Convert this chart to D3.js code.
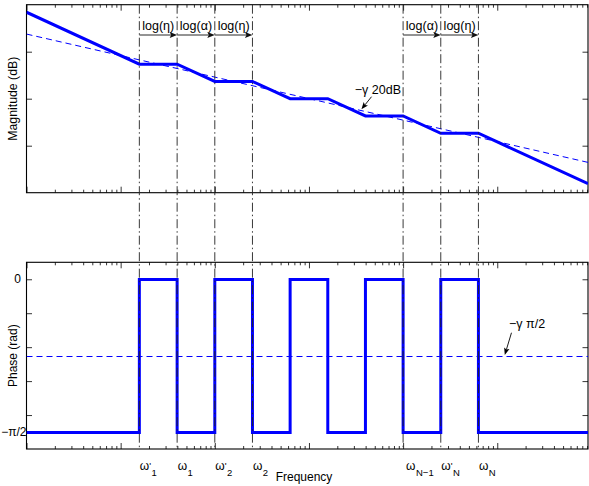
<!DOCTYPE html>
<html><head><meta charset="utf-8">
<script src="https://cdn.jsdelivr.net/npm/d3@7"></script>
<style>
body{margin:0;background:#fff}
svg{display:block}
text{font-family:"Liberation Sans",Arial,Helvetica,sans-serif;fill:#000}
</style>
</head><body>
<svg id="c" width="589" height="486"></svg>
<script>
// ---------- data ----------
const freqDomain = [0.01, 9200];
const magDomain = [-40, 40];
const magTicks = [-20, 0, 20];
const phaseDomain = [-100, 10];
const phaseTicks = [0, -20, -40, -60, -80];

// solid magnitude (staircase approximation)
const magFreq = [0.01, 0.158, 0.398, 1, 2.512, 6.31, 15.85, 39.81, 100, 251.2, 631, 9200];
const magDb   = [36.8, 14.7, 14.7, 7.35, 7.35, 0, 0, -7.35, -7.35, -14.7, -14.7, -36.1];
// dashed asymptote (-gamma 20dB/dec)
const asymFreq = [0.01, 9200];
const asymDb   = [27.5, -27.1];

// solid phase
const phaseFreq = [0.01, 0.158, 0.158, 0.398, 0.398, 1, 1, 2.512, 2.512, 6.31, 6.31,
                   15.85, 15.85, 39.81, 39.81, 100, 100, 251.2, 251.2, 631, 631, 9200];
const phaseDeg  = [-90, -90, 0, 0, -90, -90, 0, 0, -90, -90, 0,
                   0, -90, -90, 0, 0, -90, -90, 0, 0, -90, -90];
// dashed phase (-gamma pi/2)
const phaseAsymFreq = [0.01, 9200];
const phaseAsymDeg  = [-45, -45];

// marked frequencies (vertical lines and labels)
const markFreq  = [0.158, 0.398, 1, 2.512, 100, 251.2, 631];
const markPrime = [true, false, true, false, false, true, false];
const markSub   = ["1", "1", "2", "2", "N\u22121", "N", "N"];
const markShift = [0, 0, 0, 0, 2.5, 0, 0];

// log(eta)/log(alpha) spans
const spanFrom  = [0.158, 0.398, 1, 100, 251.2];
const spanTo    = [0.398, 1, 2.512, 251.2, 631];
const spanLabel = ["log(\u03b7)", "log(\u03b1)", "log(\u03b7)", "log(\u03b1)", "log(\u03b7)"];
const spanArrowDb = 27.1;
const spanTextDb  = 29.2;

// annotations
const magNoteText = "\u2212\u03b3 20dB";
const magNotePos  = [30.7, 1.8];          // [freq, dB] text start
const magNoteArrow = [[46.2, 0.85], [36.1, -4.5]];
const phNoteText = "\u2212\u03b3 \u03c0/2";
const phNotePos  = [1334, -28.9];
const phNoteArrow = [[1416, -31.5], [1202, -44.6]];

// ---------- layout ----------
const L = 26.5, R = 588;
const magTop = 4.7, magBot = 192.7;
const phTop = 262.3, phBot = 449;

const svg = d3.select("#c");
const x = d3.scaleLog().domain(freqDomain).range([L, R]);
const ym = d3.scaleLinear().domain(magDomain).range([magBot, magTop]);
const yp = d3.scaleLinear().domain(phaseDomain).range([phBot, phTop]);

// tick values for log axis
const majorX = [], minorX = [];
for (let e = -2; e <= 4; e++) {
  for (let m = 1; m <= 9; m++) {
    const v = m * Math.pow(10, e);
    if (v < freqDomain[0] - 1e-9 || v > freqDomain[1]) continue;
    (m === 1 ? majorX : minorX).push(v);
  }
}

function drawAxes(yScale, yTicks, top, bot) {
  const g = svg.append("g");
  const mk = (axis, tr) => {
    const a = g.append("g").attr("transform", tr).call(axis);
    a.select(".domain").remove();
    a.selectAll("line").attr("stroke", "#000").attr("stroke-width", 0.8);
  };
  mk(d3.axisBottom(x).tickValues(majorX).tickSize(-6).tickFormat(""), `translate(0,${bot})`);
  mk(d3.axisBottom(x).tickValues(minorX).tickSize(-3).tickFormat(""), `translate(0,${bot})`);
  mk(d3.axisTop(x).tickValues(majorX).tickSize(-6).tickFormat(""), `translate(0,${top})`);
  mk(d3.axisTop(x).tickValues(minorX).tickSize(-3).tickFormat(""), `translate(0,${top})`);
  mk(d3.axisLeft(yScale).tickValues(yTicks).tickSize(-5.5).tickFormat(""), `translate(${L},0)`);
  mk(d3.axisRight(yScale).tickValues(yTicks).tickSize(-5.5).tickFormat(""), `translate(${R},0)`);
  g.append("rect").attr("x", L).attr("y", top).attr("width", R - L).attr("height", bot - top)
    .attr("fill", "none").attr("stroke", "#000").attr("stroke-width", 1.1);
}

drawAxes(ym, magTicks, magTop, magBot);
drawAxes(yp, phaseTicks, phTop, phBot);

// clip paths
const defs = svg.append("defs");
defs.append("clipPath").attr("id", "cm").append("rect")
  .attr("x", L).attr("y", magTop).attr("width", R - L).attr("height", magBot - magTop);
defs.append("clipPath").attr("id", "cp").append("rect")
  .attr("x", L).attr("y", phTop).attr("width", R - L).attr("height", phBot - phTop);

const lineM = d3.line().x(d => x(d[0])).y(d => ym(d[1]));
const lineP = d3.line().x(d => x(d[0])).y(d => Math.round(yp(d[1])) + 0.5);
const blue = "#0000ff";

// magnitude
svg.append("path").attr("clip-path", "url(#cm)")
  .attr("d", lineM(asymFreq.map((f, i) => [f, asymDb[i]])))
  .attr("fill", "none").attr("stroke", blue).attr("stroke-width", 1).attr("stroke-dasharray", "6,4");
svg.append("path").attr("clip-path", "url(#cm)")
  .attr("d", lineM(magFreq.map((f, i) => [f, magDb[i]])))
  .attr("fill", "none").attr("stroke", blue).attr("stroke-width", 3).attr("stroke-linejoin", "miter");

// phase
svg.append("path").attr("clip-path", "url(#cp)")
  .attr("d", lineP(phaseAsymFreq.map((f, i) => [f, phaseAsymDeg[i]])))
  .attr("fill", "none").attr("stroke", blue).attr("stroke-width", 1).attr("stroke-dasharray", "6,4");
svg.append("path").attr("clip-path", "url(#cp)")
  .attr("d", lineP(phaseFreq.map((f, i) => [f, phaseDeg[i]])))
  .attr("fill", "none").attr("stroke", blue).attr("stroke-width", 3).attr("stroke-linejoin", "miter");

// vertical dash-dot lines across both plots
svg.append("g").selectAll("line").data(markFreq).join("line")
  .attr("x1", d => x(d)).attr("x2", d => x(d))
  .attr("y1", magTop).attr("y2", phBot)
  .attr("stroke", "#222").attr("stroke-width", 0.9)
  .attr("stroke-dasharray", "9,3,1.5,3");

// arrow helper (pixel space, head at (x2,y2))
function arrow(x1, y1, x2, y2, len, wid, col) {
  const ang = Math.atan2(y2 - y1, x2 - x1);
  const ux = Math.cos(ang), uy = Math.sin(ang), px = -uy, py = ux;
  const bx = x2 - ux * len, by = y2 - uy * len;
  const nx = x2 - ux * len * 0.8, ny = y2 - uy * len * 0.8;
  svg.append("line").attr("x1", x1).attr("y1", y1).attr("x2", nx).attr("y2", ny)
    .attr("stroke", col).attr("stroke-width", 0.9);
  svg.append("path")
    .attr("d", `M${x2},${y2}L${bx + px * wid / 2},${by + py * wid / 2}L${nx},${ny}L${bx - px * wid / 2},${by - py * wid / 2}Z`)
    .attr("fill", col);
}

// span arrows + labels
spanFrom.forEach((f, i) => {
  const x1 = x(f), x2 = x(spanTo[i]);
  arrow(x1, ym(spanArrowDb), x2, ym(spanArrowDb), 7.5, 6, "#111");
  svg.append("text").attr("x", (x1 + x2) / 2).attr("y", ym(spanTextDb))
    .attr("text-anchor", "middle").attr("font-size", 12.5).text(spanLabel[i]);
});

// magnitude annotation
svg.append("text").attr("x", x(magNotePos[0])).attr("y", ym(magNotePos[1]))
  .attr("font-size", 12.5).text(magNoteText);
arrow(x(magNoteArrow[0][0]), ym(magNoteArrow[0][1]), x(magNoteArrow[1][0]), ym(magNoteArrow[1][1]), 7, 5.5, "#000");

// phase annotation
svg.append("text").attr("x", x(phNotePos[0])).attr("y", yp(phNotePos[1]))
  .attr("font-size", 12.5).text(phNoteText);
arrow(x(phNoteArrow[0][0]), yp(phNoteArrow[0][1]), x(phNoteArrow[1][0]), yp(phNoteArrow[1][1]), 7, 5.5, "#000");

// omega labels
markFreq.forEach((f, i) => {
  const t = svg.append("text").attr("x", x(f) + 0.5 + markShift[i]).attr("y", 470).attr("font-size", 12);
  t.append("tspan").text("\u03c9");
  if (markPrime[i]) t.append("tspan").attr("font-size", 9.5).attr("dy", -1).text("'");
  t.append("tspan").attr("font-size", 9.5).attr("dy", markPrime[i] ? 6.5 : 5.5).attr("dx", 0.5).text(markSub[i]);
});

// phase tick labels
svg.append("text").attr("x", 21).attr("y", yp(0) + 4.2).attr("text-anchor", "end").attr("font-size", 12).text("0");
svg.append("text").attr("x", 26.5).attr("y", yp(-90) + 4.2).attr("text-anchor", "end").attr("font-size", 12).text("\u2212\u03c0/2");

// axis titles
svg.append("text").attr("x", 304).attr("y", 481).attr("text-anchor", "middle").attr("font-size", 12).text("Frequency");
svg.append("text").attr("transform", `translate(17,${(magTop + magBot) / 2 + 0})rotate(-90)`)
  .attr("text-anchor", "middle").attr("font-size", 12.3).text("Magnitude (dB)");
svg.append("text").attr("transform", `translate(17,${(phTop + phBot) / 2})rotate(-90)`)
  .attr("text-anchor", "middle").attr("font-size", 12).text("Phase (rad)");
</script>
</body></html>
